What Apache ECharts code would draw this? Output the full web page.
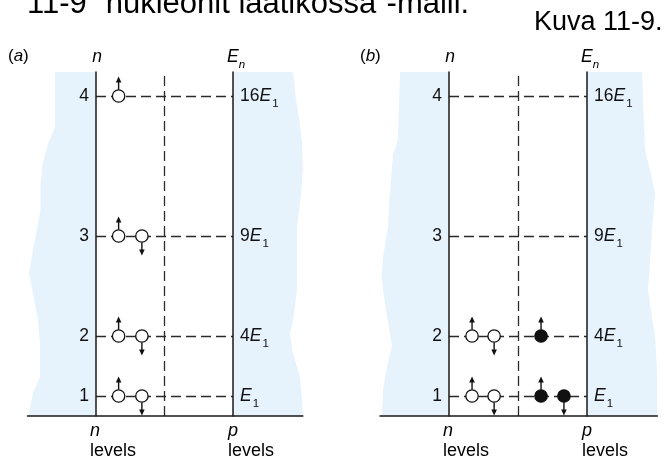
<!DOCTYPE html>
<html><head><meta charset="utf-8">
<script src="https://cdn.jsdelivr.net/npm/echarts@6/dist/echarts.min.js"></script>
<style>html,body{margin:0;padding:0;background:#fff}#c{width:669px;height:462px}</style>
</head><body><div id="c"></div>
<script>
// ---------------- data ----------------
const levelN = [1, 2, 3, 4];            // quantum number n
const levelE = [1, 4, 9, 16];           // E_n / E_1 = n^2
const levelECoef = ['', '4', '9', '16'];// coefficient text of E_1
const eTop = 17.2;                      // top of the box (in E_1 units)
// nucleons: [slot x (0 = n-level line, 1 = p-level line), E/E1, spin (+1 up, -1 down)]
const aNeutrons = [[0.165,1,1],[0.335,1,-1],[0.165,4,1],[0.335,4,-1],[0.165,9,1],[0.335,9,-1],[0.165,16,1]];
const bNeutrons = [[0.167,1,1],[0.327,1,-1],[0.167,4,1],[0.327,4,-1]];
const bProtons  = [[0.667,1,1],[0.833,1,-1],[0.667,4,1]];
// wavy outlines of the shaded walls: [x, E]
const aLeftEdge  = [[-0.299,17.2],[-0.299,14.45],[-0.35,13.6],[-0.39,12.6],[-0.405,11.5],[-0.405,10.3],[-0.44,9.0],[-0.478,7.6],[-0.488,7.1],[-0.46,6.15],[-0.423,4.8],[-0.409,3.6],[-0.409,1.95],[-0.46,1.15],[-0.48,0.45],[-0.489,0]];
const aRightEdge = [[1.438,17.2],[1.46,15.8],[1.49,14.5],[1.504,13.6],[1.509,12.3],[1.495,11.0],[1.467,9.45],[1.467,6.3],[1.438,4.8],[1.416,4.15],[1.431,3.3],[1.489,1.95],[1.504,0.8],[1.509,0]];
const bLeftEdge  = [[-0.355,17.2],[-0.37,13.8],[-0.406,13.05],[-0.43,11.0],[-0.442,9.45],[-0.478,7.95],[-0.488,7.05],[-0.478,6.3],[-0.45,5.0],[-0.413,3.55],[-0.449,2.45],[-0.478,1.3],[-0.486,0]];
const bRightEdge = [[1.399,17.2],[1.42,13.3],[1.46,12.2],[1.493,11.15],[1.471,9.3],[1.457,7.8],[1.442,6.3],[1.47,5.0],[1.493,4.05],[1.507,2.3],[1.507,0]];

// ---------------- style ----------------
const FONT = '"Liberation Sans", Arial, Helvetica, sans-serif';
const INK = '#111';
const LINE = '#1a1a1a';
const BLUE = '#e6f2fc';
const X_MIN = -0.5, X_MAX = 1.51;
const grids = [
  {left: 27.5, top: 72, width: 137 * (X_MAX - X_MIN), height: 344},
  {left: 380,  top: 72, width: 138 * (X_MAX - X_MIN), height: 344}
];

const chart = echarts.init(document.getElementById('c'), null, {renderer: 'canvas'});

function unitOf(i) { return grids[i].width / (X_MAX - X_MIN); }
function xAxisFor(i) {
  return {type: 'value', gridIndex: i, min: X_MIN, max: X_MAX, z: 4,
    axisLine: {show: true, onZero: false, lineStyle: {color: LINE, width: 1.5}},
    axisTick: {show: false}, axisLabel: {show: false}, splitLine: {show: false}};
}
function leftYAxis(i) {
  return {type: 'value', gridIndex: i, min: 0, max: eTop, interval: 1, position: 'left', z: 4,
    offset: -(0 - X_MIN) * unitOf(i),
    axisLine: {show: true, onZero: false, lineStyle: {color: LINE, width: 1.5}},
    axisTick: {show: false}, splitLine: {show: false},
    axisLabel: {margin: 7, fontSize: 17.5, fontFamily: FONT, color: INK, interval: 0,
      hideOverlap: false,
      formatter: v => { const k = levelE.indexOf(v); return k < 0 ? '' : String(levelN[k]); }}};
}
function rightYAxis(i) {
  return {type: 'value', gridIndex: i, min: 0, max: eTop, interval: 1, position: 'right', z: 4,
    offset: -(X_MAX - 1) * unitOf(i),
    axisLine: {show: true, onZero: false, lineStyle: {color: LINE, width: 1.5}},
    axisTick: {show: false}, splitLine: {show: false},
    axisLabel: {margin: 7, fontSize: 17.5, fontFamily: FONT, color: INK, interval: 0,
      hideOverlap: false,
      formatter: v => { const k = levelE.indexOf(v); if (k < 0) return '';
        return (levelECoef[k] ? '{d|' + levelECoef[k] + '}' : '') + '{e|E}{s|1}'; },
      rich: {
        d: {fontSize: 17.5, fontFamily: FONT, color: INK},
        e: {fontSize: 17.5, fontFamily: FONT, color: INK, fontStyle: 'italic'},
        s: {fontSize: 11.5, fontFamily: FONT, color: INK, padding: [15, 0, 0, 1]}
      }}};
}
function shade(i, edge, side) {
  const pts = side === 'left'
    ? edge.concat([[0, 0], [0, eTop]])
    : [[1, eTop]].concat(edge, [[1, 0]]);
  return {type: 'custom', xAxisIndex: i, yAxisIndex: 2 * i, z: 1, silent: true,
    data: pts, encode: {x: 0, y: 1},
    renderItem: (params, api) => params.dataIndex !== 0 ? null : {
      type: 'polygon', shape: {points: pts.map(p => api.coord(p))}, style: {fill: BLUE}}};
}
function dashes(i) {
  const data = levelE.map(e => ({coords: [[0, e], [1, e]]}));
  data.push({coords: [[0.5, 0], [0.5, eTop]]});
  return {type: 'lines', coordinateSystem: 'cartesian2d', xAxisIndex: i, yAxisIndex: 2 * i,
    z: 2, silent: true, data: data,
    lineStyle: {color: '#2a2a2a', width: 1.3, type: [10, 5], opacity: 1}};
}
function nucleons(i, data, filled) {
  return {type: 'custom', xAxisIndex: i, yAxisIndex: 2 * i, z: 5, silent: true,
    data: data, encode: {x: 0, y: 1},
    renderItem: (params, api) => {
      const c = api.coord([api.value(0), api.value(1)]);
      const s = api.value(2);
      const r = 6.2, tip = 19.5, head = 6, hw = 2.8;
      return {type: 'group', children: [
        {type: 'line', shape: {x1: c[0], y1: c[1] - s * r, x2: c[0], y2: c[1] - s * (tip - head + 1)},
          style: {stroke: INK, lineWidth: 1.4}},
        {type: 'polygon', shape: {points: [[c[0], c[1] - s * tip], [c[0] - hw, c[1] - s * (tip - head)], [c[0] + hw, c[1] - s * (tip - head)]]},
          style: {fill: INK}},
        {type: 'circle', shape: {cx: c[0], cy: c[1], r: r},
          style: {fill: filled ? INK : '#fff', stroke: INK, lineWidth: 1.3}}
      ]};
    }};
}
function txt(x, y, text, size, opts) {
  opts = opts || {};
  return {type: 'text', x: x, y: y, z: 10, silent: true,
    style: Object.assign({text: text, fontSize: size, fontFamily: FONT, fill: '#000',
      align: opts.align || 'left', textAlign: opts.align || 'left',
      verticalAlign: 'middle', textVerticalAlign: 'middle',
      fontStyle: opts.italic ? 'italic' : 'normal'}, opts.style || {})};
}
const richSub = {
  e: {fontSize: 17.5, fontFamily: FONT, fontStyle: 'italic', fill: '#000', color: '#000'},
  s: {fontSize: 11.5, fontFamily: FONT, fontStyle: 'italic', fill: '#000', color: '#000', padding: [14, 0, 0, 0]},
  i: {fontSize: 17, fontFamily: FONT, fontStyle: 'italic', fill: '#000', color: '#000'}
};

chart.setOption({
  backgroundColor: '#fff',
  animation: false,
  grid: grids.map(g => Object.assign({containLabel: false, outerBoundsMode: 'none'}, g)),
  xAxis: [xAxisFor(0), xAxisFor(1)],
  yAxis: [leftYAxis(0), rightYAxis(0), leftYAxis(1), rightYAxis(1)],
  series: [
    shade(0, aLeftEdge, 'left'), shade(0, aRightEdge, 'right'),
    shade(1, bLeftEdge, 'left'), shade(1, bRightEdge, 'right'),
    dashes(0), dashes(1),
    nucleons(0, aNeutrons, false),
    nucleons(1, bNeutrons, false), nucleons(1, bProtons, true)
  ],
  graphic: [
    txt(27, 4.3, '11-9 \u201dnukleonit laatikossa\u201d-malli.', 31),
    txt(534, 22.6, 'Kuva 11-9.', 27),
    txt(8, 56.5, '({i|a})', 17, {style: {rich: richSub}}),
    txt(360, 56.5, '({i|b})', 17, {style: {rich: richSub}}),
    txt(97, 57.6, 'n', 17.5, {align: 'center', italic: true}),
    txt(450, 57.6, 'n', 17.5, {align: 'center', italic: true}),
    txt(227, 57.6, '{e|E}{s|n}', 17.5, {style: {rich: richSub}}),
    txt(581, 57.6, '{e|E}{s|n}', 17.5, {style: {rich: richSub}}),
    txt(90, 431, 'n', 18, {italic: true}),
    txt(90, 451, 'levels', 18),
    txt(228, 431, 'p', 18, {italic: true}),
    txt(228, 451, 'levels', 18),
    txt(443, 431, 'n', 18, {italic: true}),
    txt(443, 451, 'levels', 18),
    txt(582, 431, 'p', 18, {italic: true}),
    txt(582, 451, 'levels', 18)
  ]
});
</script></body></html>
